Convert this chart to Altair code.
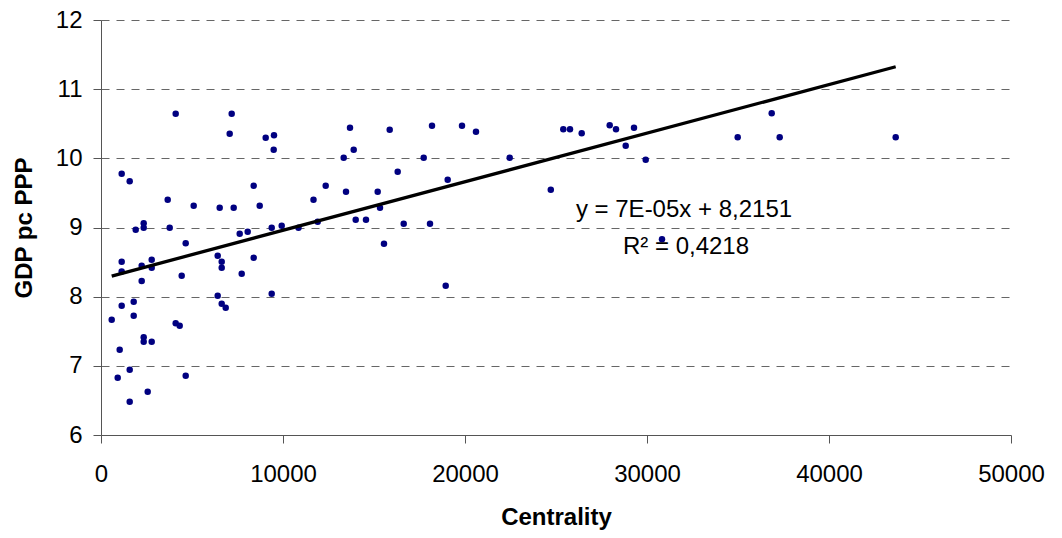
import altair as alt
import pandas as pd

# Centrality (x) and GDP pc PPP (y)
centrality = [
    4104, 7181, 7071, 9049, 9505, 9489, 1137, 1577, 3665, 5093,
    6522, 7291, 8390, 8720, 11676, 1907, 2346, 2346, 3775, 4654,
    7621, 8060, 9379, 9929, 10852, 6412, 6632, 6632, 8390, 1137,
    1137, 2236, 2786, 2786, 4434, 7731, 2236, 6412, 9379, 1137,
    1797, 588, 1797, 6632, 6852, 4104, 4324, 2346, 2346, 2786,
    1027, 1577, 918, 4654, 2566, 1577, 13681, 15863, 18187, 19835,
    20604, 13885, 13335, 17731, 22456, 16302, 19049, 12346, 13462, 15203,
    24714, 15330, 11907, 13995, 14560, 16632, 18077, 15549, 18940, 25401,
    25769, 26412, 27951, 28297, 29286, 28830, 29929, 34984, 36852, 37291,
    43665, 30824,
]
gdp = [
    10.645, 10.645, 10.356, 10.298, 10.333, 10.125, 9.778, 9.668, 9.402, 9.315,
    9.286, 9.286, 9.604, 9.315, 9.402, 8.968, 9.061, 8.997, 8.997, 8.772,
    8.911, 8.939, 8.997, 9.026, 8.997, 8.592, 8.506, 8.419, 8.563, 8.506,
    8.364, 8.448, 8.535, 8.419, 8.303, 8.332, 8.227, 8.014, 8.043, 7.870,
    7.928, 7.667, 7.725, 7.899, 7.841, 7.615, 7.580, 7.413, 7.349, 7.349,
    7.233, 6.944, 6.829, 6.858, 6.626, 6.482, 10.443, 10.414, 10.472, 10.472,
    10.385, 10.125, 10.009, 10.009, 10.009, 9.807, 9.691, 9.604, 9.518, 9.518,
    9.547, 9.286, 9.084, 9.113, 9.113, 9.055, 9.055, 8.766, 8.159, 10.420,
    10.420, 10.362, 10.478, 10.420, 10.443, 10.183, 9.980, 10.304, 10.651, 10.304,
    10.304, 8.830,
]

x_ticks = [0, 10000, 20000, 30000, 40000, 50000]
y_ticks = [6, 7, 8, 9, 10, 11, 12]

ann_text = ["y = 7E-05x + 8,2151", "R\u00b2 = 0,4218"]
ann_x = [32033, 32143]
ann_y = [9.253, 8.722]

df = pd.DataFrame({"Centrality": centrality, "GDP": gdp})
ann = pd.DataFrame({"t": ann_text, "x": ann_x, "y": ann_y})

FONT = "Liberation Sans"

xscale = alt.Scale(domain=[0, 50000], nice=False, zero=False)
yscale = alt.Scale(domain=[6, 12], nice=False, zero=False)

xaxis = alt.Axis(
    title="Centrality", values=x_ticks, format="d", grid=False,
    domainColor="#555555", tickColor="#555555", tickSize=8,
    labelFontSize=24, labelFont=FONT, labelColor="#000000", labelPadding=19,
    titleFontSize=24, titleFont=FONT, titleFontWeight="bold", titleColor="#000000",
    titleBaseline="middle", titleY=82, labelFlush=False,
)
yaxis = alt.Axis(
    title="GDP pc PPP", values=y_ticks, format="d", grid=True,
    gridColor="#666666", gridDash=[8, 7], gridWidth=1.2,
    domainColor="#555555", tickColor="#555555", tickSize=8,
    labelFontSize=24, labelFont=FONT, labelColor="#000000", labelPadding=11,
    titleFontSize=24, titleFont=FONT, titleFontWeight="bold", titleColor="#000000",
    titleBaseline="middle", titleX=-77, labelFlush=False,
)

points = alt.Chart(df).mark_circle(size=42, color="#000080", opacity=1).encode(
    x=alt.X("Centrality:Q", scale=xscale, axis=xaxis),
    y=alt.Y("GDP:Q", scale=yscale, axis=yaxis),
)

trend = alt.Chart(df).transform_regression("Centrality", "GDP").mark_line(
    color="#000000", strokeWidth=3.3
).encode(
    x=alt.X("Centrality:Q", scale=xscale),
    y=alt.Y("GDP:Q", scale=yscale),
)

labels = alt.Chart(ann).mark_text(
    font=FONT, fontSize=24, color="#000000", align="center", baseline="middle"
).encode(
    x=alt.X("x:Q", scale=xscale),
    y=alt.Y("y:Q", scale=yscale),
    text="t:N",
)

chart = alt.layer(points, trend, labels).properties(
    width=910, height=415,
    autosize=alt.AutoSizeParams(type="none"),
    padding={"left": 101, "top": 20, "right": 51, "bottom": 103},
    background="#ffffff",
).configure_view(stroke=None)

chart.save("out.html", embed_options={"renderer": "svg", "actions": False})
